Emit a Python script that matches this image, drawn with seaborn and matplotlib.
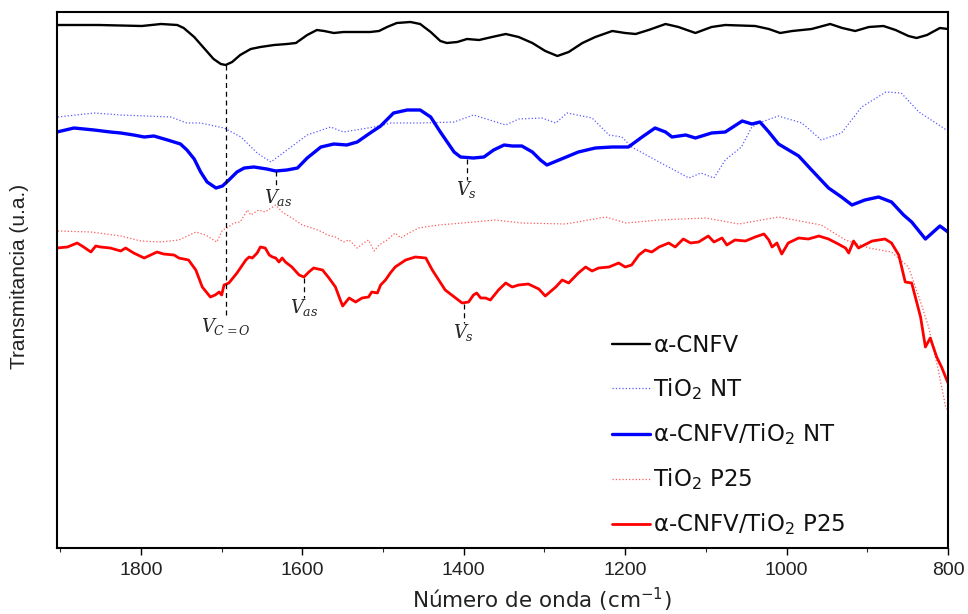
import numpy as np
import pandas as pd
import matplotlib
matplotlib.use("Agg")
import matplotlib.pyplot as plt
import seaborn as sns
from matplotlib.ticker import MultipleLocator

# ---------------- data (wavenumber cm-1, transmittance a.u. incl. vertical offsets) -------------
cnfv_x = [1904, 1852, 1799, 1775, 1755, 1747, 1734, 1722, 1710, 1701, 1695, 1687, 1677, 1664,
          1652, 1635, 1619, 1608, 1594, 1582, 1573, 1561, 1549, 1516, 1505, 1495, 1483, 1466,
          1454, 1441, 1429, 1421, 1408, 1396, 1381, 1365, 1348, 1332, 1315, 1299, 1284, 1270,
          1253, 1237, 1216, 1200, 1187, 1171, 1150, 1134, 1113, 1093, 1076, 1039, 1022, 1008,
          993, 969, 946, 931, 915, 898, 880, 865, 849, 839, 826, 810, 800]
cnfv_y = [523, 523, 522, 524, 523, 520, 511, 500, 489, 484, 483, 486, 493, 499,
          501, 503, 504, 505, 513, 518, 517, 515, 516, 516, 517, 521, 525, 526,
          524, 516, 507, 505, 506, 509, 508, 511, 514, 511, 505, 497, 492, 496,
          505, 511, 517, 515, 514, 518, 524, 521, 515, 521, 523, 522, 519, 515,
          517, 519, 524, 520, 517, 521, 522, 518, 512, 510, 513, 520, 519]

nt_x = [1903, 1858, 1825, 1763, 1743, 1726, 1697, 1676, 1656, 1639, 1619, 1594, 1565,
        1549, 1511, 1490, 1453, 1412, 1388, 1348, 1332, 1303, 1286, 1272, 1241, 1220,
        1204, 1192, 1158, 1121, 1106, 1090, 1076, 1056, 1043, 1031, 1010, 981, 957,
        932, 907, 877, 858, 836, 800]
nt_y = [431, 435, 433, 431, 425, 425, 420, 411, 395, 386, 398, 413, 421,
        416, 421, 425, 425, 426, 433, 423, 429, 430, 425, 435, 430, 413,
        411, 401, 386, 370, 375, 370, 388, 401, 421, 426, 432, 425, 408,
        415, 441, 456, 455, 436, 417]

cnfv_nt_x = [1904, 1883, 1858, 1838, 1825, 1809, 1796, 1784, 1767, 1751, 1743, 1734, 1726,
             1718, 1707, 1699, 1691, 1681, 1672, 1660, 1644, 1633, 1619, 1606, 1594, 1577,
             1561, 1545, 1532, 1516, 1503, 1487, 1470, 1454, 1441, 1429, 1412, 1404, 1388,
             1375, 1363, 1350, 1340, 1328, 1315, 1305, 1297, 1282, 1258, 1237, 1216, 1196,
             1179, 1163, 1150, 1142, 1125, 1113, 1093, 1076, 1055, 1043, 1033, 1022, 1010,
             985, 969, 948, 932, 919, 903, 886, 870, 855, 845, 828, 810, 800]
cnfv_nt_y = [416, 420, 418, 416, 415, 413, 411, 412, 408, 404, 398, 389, 376,
             366, 360, 362, 368, 376, 380, 381, 379, 377, 378, 380, 390, 401,
             404, 403, 406, 415, 422, 435, 438, 438, 431, 416, 396, 391, 390,
             391, 398, 403, 402, 402, 396, 388, 383, 388, 396, 400, 401, 401,
             411, 420, 416, 411, 413, 410, 415, 416, 427, 424, 426, 416, 404,
             392, 378, 360, 351, 343, 348, 351, 346, 333, 326, 309, 322, 316]

p25_x = [1903, 1862, 1825, 1800, 1776, 1753, 1732, 1720, 1706, 1699, 1693, 1685, 1677, 1668,
         1664, 1654, 1646, 1633, 1625, 1613, 1600, 1588, 1575, 1569, 1559, 1549, 1542, 1532,
         1524, 1518, 1511, 1505, 1495, 1485, 1478, 1468, 1456, 1431, 1402, 1361, 1328, 1274,
         1224, 1199, 1158, 1100, 1059, 1010, 957, 927, 898, 870, 849, 836, 824, 812, 803, 800]
p25_y = [317, 316, 312, 307, 306, 308, 316, 313, 306, 318, 320, 325, 326, 338,
         333, 338, 336, 343, 336, 330, 323, 320, 316, 313, 311, 306, 308, 300,
         305, 308, 297, 303, 308, 315, 310, 315, 320, 323, 325, 328, 325, 324,
         331, 325, 328, 330, 324, 331, 323, 308, 300, 296, 281, 251, 221, 178, 141, 138]

cnfv_p25_x = [1904, 1891, 1879, 1871, 1862, 1856, 1850, 1838, 1825, 1819, 1809, 1796, 1788,
              1780, 1772, 1759, 1753, 1741, 1732, 1724, 1714, 1708, 1703, 1700, 1697, 1691,
              1681, 1670, 1666, 1662, 1656, 1652, 1646, 1641, 1637, 1633, 1629, 1625, 1621,
              1613, 1604, 1598, 1592, 1586, 1575, 1567, 1559, 1553, 1550, 1542, 1534, 1526,
              1518, 1514, 1507, 1503, 1497, 1491, 1485, 1472, 1460, 1447, 1439, 1423, 1402,
              1394, 1388, 1384, 1379, 1373, 1367, 1357, 1348, 1340, 1332, 1320, 1307, 1299,
              1286, 1278, 1270, 1258, 1249, 1241, 1233, 1220, 1208, 1200, 1192, 1183, 1175,
              1167, 1158, 1146, 1138, 1128, 1119, 1109, 1097, 1090, 1080, 1074, 1064, 1051,
              1039, 1028, 1022, 1018, 1012, 1006, 998, 985, 973, 960, 948, 936, 927, 923,
              917, 911, 894, 878, 870, 861, 853, 845, 834, 828, 822, 814, 808, 800]
cnfv_p25_y = [300, 301, 305, 301, 296, 302, 301, 300, 297, 300, 295, 290, 293,
              296, 294, 293, 290, 288, 278, 261, 251, 253, 256, 253, 263, 265,
              275, 288, 291, 290, 295, 301, 300, 293, 291, 290, 286, 290, 286,
              281, 273, 271, 276, 280, 278, 270, 261, 248, 242, 250, 246, 250,
              251, 256, 255, 263, 268, 275, 281, 288, 291, 290, 278, 258, 245,
              246, 253, 255, 250, 250, 248, 258, 265, 261, 263, 264, 259, 252,
              261, 268, 265, 275, 281, 277, 280, 281, 285, 281, 283, 293, 298,
              296, 301, 305, 301, 309, 305, 306, 312, 306, 310, 303, 308, 307,
              311, 314, 308, 301, 305, 294, 305, 310, 309, 312, 309, 304, 300, 295,
              307, 300, 307, 309, 305, 293, 266, 265, 231, 201, 210, 191, 181, 165]

labels = ["α-CNFV", r"TiO$_\mathregular{2}$ NT", r"α-CNFV/TiO$_\mathregular{2}$ NT",
          r"TiO$_\mathregular{2}$ P25", r"α-CNFV/TiO$_\mathregular{2}$ P25"]

# ---------------- style ----------------
sns.set_theme(style="white")
plt.rcParams["font.family"] = ["Liberation Sans", "DejaVu Sans"]
plt.rcParams["mathtext.fontset"] = "dejavuserif"

fig = plt.figure(figsize=(9.68, 6.14), dpi=100)
ax = fig.add_axes([57/968, 1-548/614, (948-57)/968, (548-12)/614])

series = [
    (cnfv_x, cnfv_y, dict(color="black", linewidth=1.7, linestyle="-")),
    (nt_x, nt_y, dict(color="#5a5aff", linewidth=0.9, linestyle=":")),
    (cnfv_nt_x, cnfv_nt_y, dict(color="#0000ff", linewidth=2.4, linestyle="-")),
    (p25_x, p25_y, dict(color="#ff5a5a", linewidth=0.9, linestyle=":")),
    (cnfv_p25_x, cnfv_p25_y, dict(color="#ff0000", linewidth=2.0, linestyle="-")),
]
for (xs, ys, kw), lab in zip(series, labels):
    df = pd.DataFrame({"x": xs, "y": ys})
    sns.lineplot(data=df, x="x", y="y", ax=ax, label=lab, sort=False, **kw)

ax.set_xlim(1904, 800)
ax.set_ylim(0, 536)
ax.set_yticks([])
ax.xaxis.set_major_locator(MultipleLocator(200))
ax.xaxis.set_minor_locator(MultipleLocator(100))
ax.tick_params(axis="x", which="major", direction="out", length=5, width=1, bottom=True,
               labelsize=14, pad=5, colors="black")
ax.tick_params(axis="x", which="minor", direction="out", length=3, width=0.8, bottom=True)
for lbl in ax.get_xticklabels():
    lbl.set_color("#222222")
for s in ax.spines.values():
    s.set_color("black")
    s.set_linewidth(1.5)

ax.set_xlabel("Número de onda (cm$^{\\mathregular{-1}}$)", fontsize=15.5, color="#222222",
              family=["DejaVu Sans"])
ax.xaxis.set_label_coords((542-57)/891, -(600-548)/536, transform=None) if False else None
ax.xaxis.set_label_coords((542-57)/891, -(600-548)/536 - 0.0)
ax.xaxis.label.set_va("center")
ax.set_ylabel("Transmitancia (u.a.)", fontsize=15, color="#222222")
ax.yaxis.set_label_coords(-(57-20)/891, (548-276)/536)
ax.yaxis.label.set_va("center")

# ---------------- annotations ----------------
dash = dict(color="black", linewidth=0.9, linestyle=(0, (4, 3)))
fs = 13
ax.plot([1695, 1695], [483, 230], **dash)
ax.text(1694, 221, r"$V_{C=O}$", ha="center", va="center", fontsize=fs)
ax.plot([1633, 1633], [377, 361], **dash)
ax.text(1630, 350, r"$V_{as}$", ha="center", va="center", fontsize=fs)
ax.plot([1396, 1396], [389, 368], **dash)
ax.text(1396, 358, r"$V_{s}$", ha="center", va="center", fontsize=fs)
ax.plot([1598, 1598], [270, 250], **dash)
ax.text(1598, 240, r"$V_{as}$", ha="center", va="center", fontsize=fs)
ax.plot([1400, 1400], [244, 225], **dash)
ax.text(1400, 215, r"$V_{s}$", ha="center", va="center", fontsize=fs)

leg = ax.legend(loc="upper left", bbox_to_anchor=(612/968, 1-334/614), bbox_transform=fig.transFigure,
                frameon=False, prop={"family": ["DejaVu Sans"], "size": 16.5},
                handlelength=1.66, handletextpad=0.15,
                labelspacing=0.85, borderpad=0, borderaxespad=0)
for t in leg.get_texts():
    t.set_color("#111111")

fig.savefig("out.png", dpi=100)
